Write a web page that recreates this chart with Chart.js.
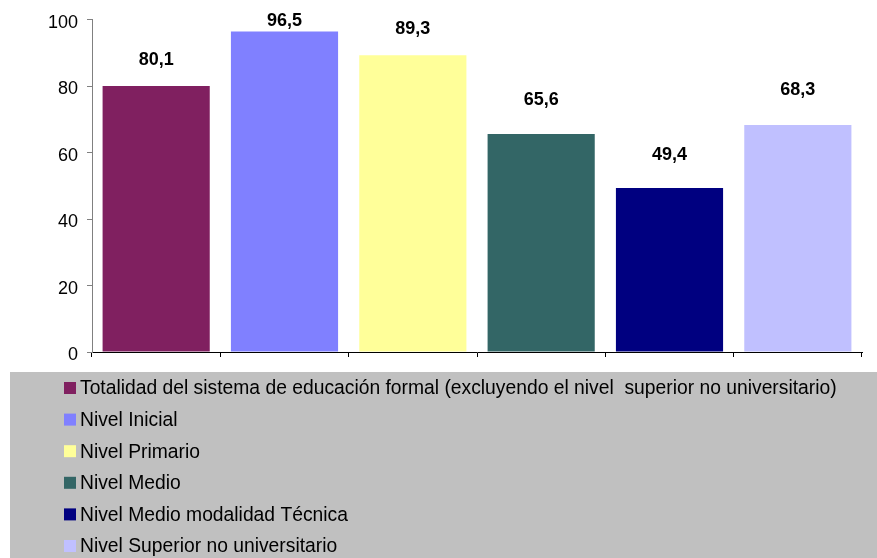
<!DOCTYPE html>
<html>
<head>
<meta charset="utf-8">
<script src="https://cdn.jsdelivr.net/npm/chart.js@4"></script>
<style>
    body { margin: 0; background: #ffffff; }
    #chartBox { width: 877px; height: 558px; }
</style>
</head>
<body>
<div id="chartBox"><canvas id="nivelesChart" width="877" height="558"></canvas></div>
<script>
const categories = [
    'Totalidad del sistema de educación formal (excluyendo el nivel  superior no universitario)',
    'Nivel Inicial',
    'Nivel Primario',
    'Nivel Medio',
    'Nivel Medio modalidad Técnica',
    'Nivel Superior no universitario'
];
const values = [80.1, 96.5, 89.3, 65.6, 49.4, 68.3];
const yTicks = [0, 20, 40, 60, 80, 100];
const barColors = ['#802060', '#8080FF', '#FFFF99', '#336666', '#000080', '#C0C0FF'];

const fontFamily = '"Liberation Sans", Arial, sans-serif';

// how far above each bar top its label sits (labels were hand placed in the original)
const labelLift = [26, 10, 26, 34, 33, 35];

// value labels above each bar, comma as decimal separator
const valueLabels = {
    id: 'valueLabels',
    afterDatasetsDraw(chart) {
        const ctx = chart.ctx;
        const meta = chart.getDatasetMeta(0);
        ctx.save();
        ctx.font = 'bold 18px ' + fontFamily;
        ctx.fillStyle = '#000000';
        ctx.textAlign = 'center';
        ctx.textBaseline = 'middle';
        meta.data.forEach((bar, i) => {
            ctx.fillText(values[i].toFixed(1).replace('.', ','), bar.x, bar.y - labelLift[i]);
        });
        ctx.restore();
    }
};

// gray legend panel under the plot, one entry per row
const panelLegend = {
    id: 'panelLegend',
    afterDraw(chart) {
        const ctx = chart.ctx;
        const items = chart.options.plugins.legend.labels.generateLabels(chart);
        ctx.save();
        ctx.fillStyle = '#C0C0C0';
        ctx.fillRect(10, 372, chart.width - 10, chart.height - 372);
        ctx.font = '19.3px ' + fontFamily;
        ctx.textBaseline = 'middle';
        ctx.textAlign = 'left';
        items.forEach((item, i) => {
            const cy = 388 + i * 31.6;
            ctx.fillStyle = item.fillStyle;
            ctx.fillRect(64, cy - 6, 12, 12);
            ctx.fillStyle = '#000000';
            ctx.fillText(item.text, 80, cy + 1);
        });
        ctx.restore();
    }
};

const chartCtx = document.getElementById('nivelesChart');
const nivelesChart = new Chart(chartCtx, {
    type: 'bar',
    data: {
        labels: categories,
        datasets: [{
            data: values,
            backgroundColor: barColors,
            borderWidth: 0,
            categoryPercentage: 1,
            barPercentage: 0.835
        }]
    },
    options: {
        responsive: false,
        animation: false,
        layout: {
            padding: { top: 17, right: 15, left: 0, bottom: 200 }
        },
        plugins: {
            legend: {
                display: false,
                labels: {
                    generateLabels(chart) {
                        return chart.data.labels.map((label, i) => ({
                            text: label,
                            fillStyle: chart.data.datasets[0].backgroundColor[i],
                            index: i
                        }));
                    }
                }
            },
            tooltip: { enabled: false }
        },
        scales: {
            x: {
                grid: {
                    offset: true,
                    drawOnChartArea: false,
                    drawTicks: true,
                    tickLength: 5,
                    color: '#000000'
                },
                border: { color: '#000000', width: 1 },
                ticks: { display: false },
                afterFit(scale) { scale.height = 6; }
            },
            y: {
                min: 0,
                max: 100,
                afterBuildTicks(scale) {
                    scale.ticks = yTicks.map(v => ({ value: v }));
                },
                grid: {
                    drawOnChartArea: false,
                    drawTicks: true,
                    tickLength: 5,
                    color: '#808080'
                },
                border: { color: '#808080', width: 1 },
                ticks: {
                    padding: 9,
                    labelOffset: 3,
                    color: '#000000',
                    font: { family: fontFamily, size: 18 }
                },
                afterFit(scale) { scale.width = 92; }
            }
        }
    },
    plugins: [valueLabels, panelLegend]
});
</script>
</body>
</html>
